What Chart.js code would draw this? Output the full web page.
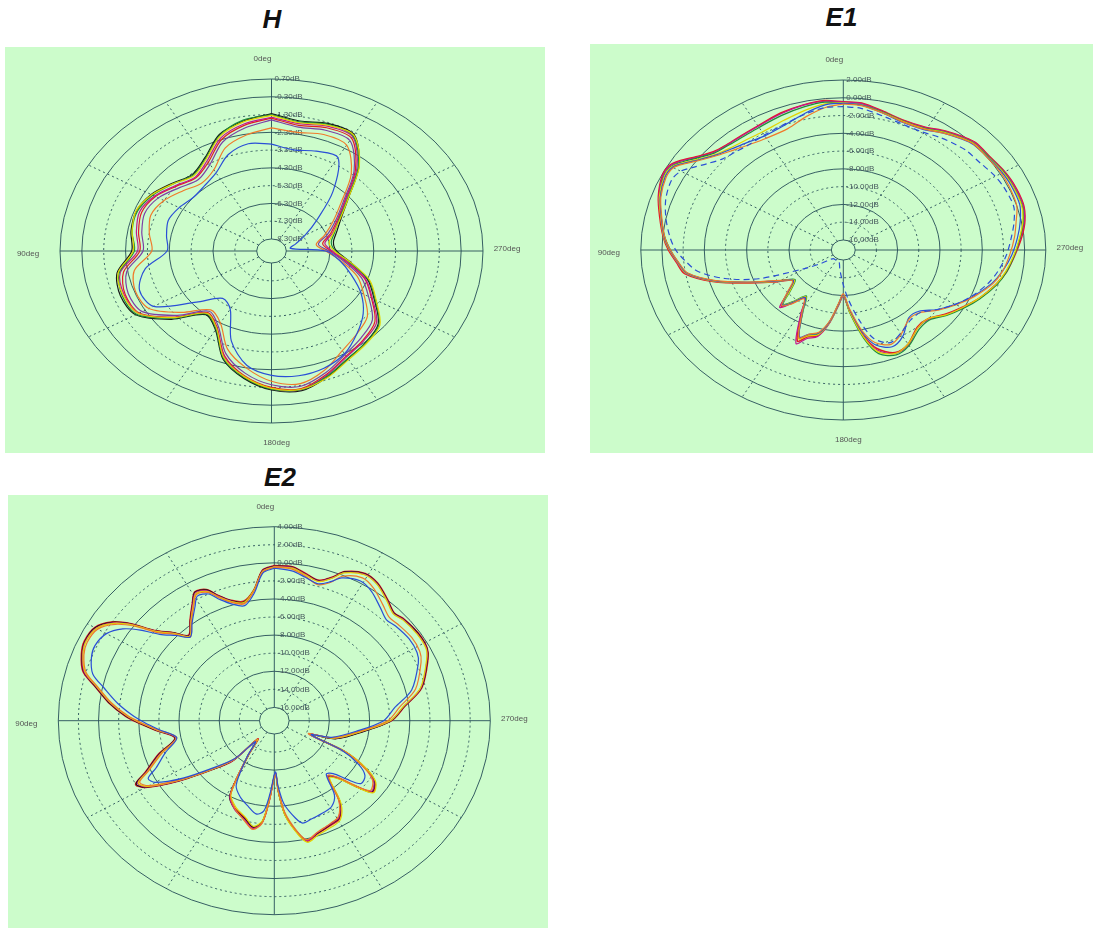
<!DOCTYPE html>
<html>
<head>
<meta charset="utf-8">
<script src="https://cdn.jsdelivr.net/npm/chart.js@4.4.0/dist/chart.umd.min.js"></script>
<style>
  body { margin: 0; background: #fff; width: 1093px; height: 928px; position: relative; overflow: hidden; }
  .titulo { position: absolute; font: italic bold 26px "Liberation Sans", Arial, sans-serif; color: #111; text-align: center; }
  canvas.painel { position: absolute; background: #ccfccb; }
</style>
</head>
<body>
<div class="titulo" style="left:2px; top:4px; width:540px;">H</div>
<div class="titulo" style="left:590px; top:2px; width:503px;">E1</div>
<div class="titulo" style="left:10px; top:462px; width:540px;">E2</div>

<canvas id="graficoH" class="painel" width="540" height="406" style="left:5px; top:47px;"></canvas>
<canvas id="graficoE1" class="painel" width="503" height="409" style="left:590px; top:44px;"></canvas>
<canvas id="graficoE2" class="painel" width="540" height="433" style="left:8px; top:495px;"></canvas>

<script>
// aneis (dB) de cada diagrama, do furo central ate a borda
const H_ANEIS = [-8.3, -7.3, -6.3, -5.3, -4.3, -3.3, -2.3, -1.3, -0.3, 0.7];
const E1_ANEIS = [-16, -14, -12, -10, -8, -6, -4, -2, 0, 2];
const E2_ANEIS = [-16, -14, -12, -10, -8, -6, -4, -2, 0, 2, 4];

// ---- H ----
const H_ANGULOS = [0, 10, 20, 30, 40, 50, 60, 70, 80, 90, 100, 110, 120, 130, 140, 150, 160, 170,
    180, 190, 200, 210, 220, 230, 240, 250, 260, 270, 280, 290, 300, 310, 320, 330, 340, 350];
const hPreto = [-1.24, -1.55, -2.0, -2.9, -3.35, -3.05, -2.62, -2.4, -2.45, -2.58, -1.8, -1.62, -1.8, -3.0, -4.3, -3.85, -2.5, -1.7,
    -1.16, -1.0, -1.45, -1.98, -2.27, -2.6, -3.55, -4.3, -5.3, -6.0, -6.1, -5.8, -5.3, -4.4, -2.75, -1.42, -1.35, -1.55];
const hVerde = [-1.3, -1.5, -2.05, -2.95, -3.4, -3.1, -2.7, -2.45, -2.5, -2.7, -1.9, -1.7, -1.85, -3.1, -4.35, -3.9, -2.55, -1.75,
    -1.2, -1.05, -1.5, -2.0, -2.25, -2.55, -3.5, -4.25, -5.35, -6.05, -6.2, -5.9, -5.4, -4.45, -2.8, -1.5, -1.4, -1.6];
const hAmarelo = [-1.35, -1.6, -2.1, -3.0, -3.45, -3.1, -2.65, -2.38, -2.5, -2.65, -1.85, -1.75, -1.95, -3.15, -4.4, -3.95, -2.6, -1.8,
    -1.25, -1.08, -1.42, -1.92, -2.2, -2.5, -3.45, -4.2, -5.3, -6.1, -6.3, -5.95, -5.35, -4.4, -2.72, -1.45, -1.45, -1.65];
const hVermelho = [-1.5, -1.8, -2.3, -3.2, -3.6, -3.3, -2.85, -2.65, -2.8, -2.95, -2.1, -1.85, -2.0, -3.2, -4.45, -4.0, -2.7, -1.85,
    -1.3, -1.12, -1.6, -2.15, -2.45, -2.8, -3.7, -4.45, -5.5, -6.25, -6.6, -6.1, -5.5, -4.6, -3.0, -1.65, -1.6, -1.8];
const hMagenta = [-1.45, -1.72, -2.2, -3.1, -3.55, -3.25, -2.8, -2.55, -2.7, -2.85, -1.95, -1.8, -1.95, -3.15, -4.4, -3.95, -2.65, -1.8,
    -1.22, -1.05, -1.55, -2.1, -2.4, -2.7, -3.65, -4.4, -5.45, -6.2, -6.5, -6.0, -5.45, -4.55, -2.9, -1.55, -1.5, -1.7];
const hRoxo = [-1.6, -1.95, -2.45, -3.35, -3.75, -3.45, -3.0, -2.8, -2.95, -3.1, -2.25, -2.0, -2.15, -3.35, -4.55, -4.1, -2.85, -2.0,
    -1.45, -1.25, -1.7, -2.25, -2.6, -2.95, -3.85, -4.6, -5.6, -6.35, -6.8, -6.25, -5.6, -4.7, -3.1, -1.8, -1.75, -1.9];
const hLaranja = [-2.05, -2.35, -2.8, -3.7, -4.0, -3.7, -3.3, -3.1, -3.3, -3.5, -2.6, -2.35, -2.5, -3.6, -4.65, -4.3, -3.1, -2.3,
    -1.65, -1.4, -1.85, -2.5, -2.9, -3.25, -4.1, -4.8, -5.75, -6.5, -6.9, -6.4, -5.75, -4.85, -3.3, -2.1, -2.0, -2.2];
const hAzul = [-2.96, -2.85, -3.2, -3.9, -4.2, -4.3, -4.1, -3.95, -4.1, -4.2, -3.1, -2.55, -2.75, -4.5, -5.5, -5.2, -3.6, -2.45,
    -1.98, -1.85, -1.96, -2.3, -2.9, -3.5, -4.25, -5.1, -5.8, -6.5, -8.1, -7.8, -7.2, -6.27, -4.6, -2.9, -3.0, -3.2];

// ---- E1 ----
const E1_ANGULOS = [0, 6, 13, 21, 30, 37, 43, 48, 53, 57, 60, 64, 71, 78, 85, 90, 95, 100, 106, 112,
    120, 126, 132, 137, 141, 146, 151, 157, 161, 166, 171, 176, 180, 185, 191, 196, 203, 210, 219, 226,
    233, 240, 247, 255, 261, 268, 275, 281, 287, 295, 301, 307, 314, 318, 324, 331, 339, 346, 354];
const e1Vermelho = [-0.45, -0.22, -0.37, -0.62, -1.0, -1.05, -0.95, -0.6, 0.3, 1.3, 1.85, 1.9, 1.35, 0.6, -0.05, -0.6, -1.3, -1.9, -4.3, -7.2,
    -10.0, -11.3, -10.2, -8.5, -9.5, -10.7, -9.0, -6.0, -6.8, -7.2, -8.9, -11.0, -12.0, -10.2, -7.4, -5.6, -4.6, -4.9, -6.0, -6.0,
    -5.1, -4.2, -3.2, -2.2, -1.5, -0.9, -0.2, 0.35, 0.65, 0.6, 0.45, 0.25, 0.25, -0.05, -0.6, -1.3, -1.45, -1.1, -0.5];
const e1Magenta = [-0.5, -0.3, -0.4, -0.7, -1.05, -1.1, -1.0, -0.7, 0.2, 1.2, 1.8, 1.85, 1.3, 0.5, -0.1, -0.7, -1.35, -2.0, -4.4, -7.3,
    -10.1, -11.4, -10.3, -8.3, -9.4, -10.6, -8.8, -5.7, -6.6, -7.1, -8.8, -10.9, -11.9, -10.1, -7.3, -5.4, -4.5, -4.8, -5.9, -5.9,
    -5.0, -4.1, -3.15, -2.15, -1.55, -0.95, -0.3, 0.3, 0.6, 0.55, 0.4, 0.2, 0.2, -0.1, -0.65, -1.35, -1.5, -1.15, -0.55];
const e1Verde = [-0.6, -0.4, -0.6, -0.9, -1.2, -1.25, -1.1, -0.8, 0.1, 1.05, 1.65, 1.75, 1.2, 0.45, -0.2, -0.8, -1.45, -2.1, -4.5, -7.4,
    -10.2, -11.5, -10.5, -8.8, -9.7, -10.9, -9.3, -6.4, -7.0, -7.4, -9.0, -11.1, -12.1, -10.0, -7.0, -5.0, -4.3, -4.7, -5.7, -5.8,
    -4.9, -4.0, -3.1, -2.1, -1.5, -0.95, -0.35, 0.2, 0.5, 0.45, 0.35, 0.15, 0.1, -0.2, -0.75, -1.45, -1.55, -1.2, -0.7];
const e1Amarelo = [-0.55, -0.6, -1.0, -1.5, -1.8, -1.7, -1.45, -1.0, -0.1, 0.9, 1.6, 1.7, 1.25, 0.5, -0.1, -0.7, -1.4, -2.05, -4.4, -7.3,
    -10.1, -11.4, -10.4, -8.7, -9.6, -10.8, -9.2, -6.3, -6.9, -7.3, -8.9, -11.0, -12.0, -10.1, -7.2, -5.2, -4.5, -4.9, -5.9, -6.0,
    -5.0, -4.15, -3.2, -2.2, -1.6, -1.0, -0.4, 0.15, 0.45, 0.4, 0.3, 0.1, 0.05, -0.25, -0.8, -1.5, -1.6, -1.25, -0.75];
const e1Laranja = [-0.7, -1.0, -1.7, -2.5, -2.6, -2.3, -1.8, -1.2, -0.3, 0.7, 1.4, 1.5, 1.1, 0.4, -0.2, -0.8, -1.5, -2.2, -4.6, -7.5,
    -10.3, -11.2, -10.0, -8.6, -9.3, -10.5, -9.1, -6.4, -7.1, -7.6, -9.1, -11.2, -12.2, -10.5, -7.9, -6.3, -5.6, -6.2, -7.2, -7.0,
    -5.9, -4.8, -3.7, -2.5, -1.9, -1.4, -0.9, -0.5, 0.0, 0.1, 0.1, 0.0, 0.0, -0.3, -0.9, -1.55, -1.65, -1.3, -0.8];
const e1Azul = [-0.6, -0.7, -1.3, -2.0, -2.3, -2.0, -1.6, -1.1, -0.2, 0.8, 1.5, 1.6, 1.15, 0.45, -0.15, -0.75, -1.45, -2.15, -4.5, -7.4,
    -10.2, -11.3, -10.1, -8.7, -9.5, -10.7, -9.2, -6.5, -7.1, -7.5, -9.0, -11.1, -12.1, -10.4, -7.7, -6.0, -5.3, -5.9, -7.3, -7.2,
    -6.0, -4.9, -3.8, -2.6, -1.9, -1.2, -0.6, -0.1, 0.3, 0.3, 0.2, 0.05, -0.05, -0.35, -0.9, -1.6, -1.7, -1.3, -0.75];
const e1Tracejado = [-1.0, -1.0, -1.4, -1.9, -2.2, -2.3, -2.1, -1.8, -1.0, -0.1, 0.6, 0.9, 0.6, 0.0, -0.7, -1.3, -2.2, -3.2, -5.5, -8.5,
    -13.0, -14.6, -15.6, -15.8, -15.8, -15.8, -15.8, -15.8, -15.8, -15.6, -15.0, -14.2, -13.2, -11.5, -9.0, -6.8, -5.8, -6.3, -7.0, -7.0,
    -6.0, -4.9, -3.9, -2.9, -2.3, -1.7, -1.2, -0.7, -0.3, -0.4, -0.6, -0.9, -1.0, -1.2, -1.5, -1.9, -1.9, -1.6, -1.1];

// ---- E2 ----
const E2_ANGULOS = [0, 4, 8, 13, 18, 22, 25, 29, 32, 37, 42, 46, 50, 53, 56, 60, 65, 69, 74, 78,
    83, 88, 91, 95, 101, 108, 114, 117, 120, 125, 131, 137, 141, 146, 152, 158, 165, 170, 174, 177,
    181, 183, 186, 191, 194, 199, 206, 211, 216, 221, 225, 228, 231, 236, 240, 244, 247, 252, 262, 270,
    277, 284, 294, 298, 304, 311, 315, 320, 326, 331, 337, 340, 344, 349, 354];
const e2Vermelho = [-0.3, -0.74, -2.85, -3.9, -3.45, -2.48, -1.45, -1.15, -2.1, -3.54, -4.74, -3.41, -1.95, 0.35, 2.07, 3.16, 3.37, 3.07, 2.32, 0.75,
    -0.85, -2.64, -3.94, -5.57, -7.4, -5.33, -3.43, -1.99, -2.68, -5.79, -9.18, -11.4, -14.9, -12.9, -8.13, -7.02, -6.29, -5.45, -6.22, -8.88,
    -11.65, -9.61, -6.98, -4.6, -3.73, -4.24, -4.6, -4.85, -6.37, -9.27, -8.46, -6.63, -4.89, -5.41, -7.02, -9.65, -13.7, -11.1, -8.71, -5.81,
    -4.39, -2.35, -0.74, -0.27, -0.18, -0.35, -0.6, 0.05, 0.9, 1.17, 0.46, -0.55, -1.3, -0.9, -0.33];
const e2Preto = [-0.35, -0.8, -2.9, -4.0, -3.5, -2.55, -1.5, -1.2, -2.15, -3.6, -4.8, -3.45, -2.0, 0.3, 2.0, 3.1, 3.3, 3.0, 2.25, 0.7,
    -0.9, -2.7, -4.0, -5.6, -7.45, -5.4, -3.5, -2.05, -2.75, -5.85, -9.2, -11.5, -14.8, -12.8, -8.0, -6.95, -6.2, -5.5, -6.3, -8.9,
    -11.6, -9.5, -6.9, -4.7, -3.85, -4.3, -4.7, -4.95, -6.45, -9.3, -8.5, -6.7, -5.0, -5.5, -7.1, -9.7, -13.6, -11.0, -8.6, -5.85,
    -4.45, -2.4, -0.8, -0.3, -0.22, -0.4, -0.65, 0.0, 0.85, 1.12, 0.42, -0.6, -1.35, -0.95, -0.38];
const e2Magenta = [-0.4, -0.85, -2.95, -4.1, -3.55, -2.6, -1.6, -1.3, -2.2, -3.65, -4.85, -3.5, -2.05, 0.2, 1.9, 3.0, 3.25, 2.95, 2.2, 0.6,
    -1.0, -2.8, -4.1, -5.7, -7.5, -5.5, -3.6, -2.2, -2.85, -5.9, -9.25, -11.5, -14.7, -12.7, -8.1, -6.9, -6.1, -5.35, -6.2, -8.8,
    -11.7, -9.6, -7.0, -4.65, -3.8, -4.35, -4.75, -5.0, -6.5, -9.35, -8.55, -6.75, -5.05, -5.55, -7.1, -9.7, -13.7, -11.2, -8.8, -5.9,
    -4.5, -2.45, -0.85, -0.35, -0.3, -0.45, -0.7, -0.05, 0.8, 1.05, 0.35, -0.65, -1.4, -1.0, -0.42];
const e2Amarelo = [-0.45, -0.9, -2.9, -4.05, -3.6, -2.7, -1.7, -1.4, -2.3, -3.7, -4.9, -3.55, -2.1, 0.1, 1.8, 2.95, 3.2, 2.9, 2.1, 0.55,
    -1.05, -2.85, -4.15, -5.75, -7.55, -5.6, -3.7, -2.3, -2.95, -6.0, -9.3, -11.6, -14.8, -12.8, -8.3, -7.2, -6.4, -5.6, -6.4, -9.0,
    -11.6, -9.5, -6.8, -4.5, -3.6, -4.1, -4.4, -4.7, -6.2, -9.1, -8.3, -6.5, -4.8, -5.3, -6.95, -9.6, -13.6, -11.2, -8.8, -5.95,
    -4.55, -2.5, -0.9, -0.4, -0.35, -0.5, -0.75, -0.1, 0.75, 1.0, 0.3, -0.7, -1.45, -1.05, -0.5];
const e2Laranja = [-0.5, -1.0, -3.0, -4.2, -3.7, -2.8, -1.8, -1.5, -2.4, -3.8, -5.0, -3.7, -2.3, -0.1, 1.6, 2.8, 3.05, 2.8, 2.0, 0.45,
    -1.15, -2.95, -4.25, -5.85, -7.6, -5.7, -3.8, -2.45, -3.1, -6.1, -9.4, -11.7, -14.7, -12.6, -8.2, -7.0, -6.0, -5.25, -6.1, -8.7,
    -11.6, -9.7, -7.2, -4.8, -3.9, -4.4, -4.8, -5.1, -6.6, -9.4, -8.7, -6.9, -5.2, -5.7, -7.3, -9.8, -13.8, -11.4, -9.0, -6.2,
    -4.9, -3.0, -1.5, -1.1, -1.0, -1.2, -1.3, -0.7, 0.2, 0.6, -0.1, -1.2, -1.8, -1.2, -0.6];
const e2Azul = [-0.6, -1.1, -3.2, -4.4, -3.9, -3.0, -2.0, -1.7, -2.6, -3.9, -5.0, -3.9, -2.6, -0.8, 0.7, 1.8, 2.2, 2.0, 1.3, -0.2,
    -1.8, -3.5, -4.6, -6.0, -7.6, -6.1, -4.6, -3.4, -3.8, -6.4, -9.6, -11.8, -14.5, -12.6, -9.4, -8.4, -7.6, -7.0, -7.4, -9.4,
    -11.8, -10.2, -8.2, -6.5, -5.8, -6.0, -6.2, -6.4, -7.3, -9.6, -9.2, -7.8, -6.4, -6.6, -7.8, -10.0, -13.5, -11.5, -9.2, -6.6,
    -5.4, -3.4, -1.8, -1.4, -1.3, -1.5, -1.7, -1.1, -0.2, 0.2, -0.3, -1.1, -1.7, -1.3, -0.8];

const CORES = {
    preto: '#161616', vermelho: '#e41b23', magenta: '#c2188f', verde: '#1e8c3a',
    amarelo: '#e2d400', laranja: '#f07a2a', roxo: '#7b3fa6', azul: '#2a4fd6'
};

// raio normalizado (borda = 1) para um valor em dB
function raioNormal(db, aneis, furo) {
    const min = aneis[0], max = aneis[aneis.length - 1];
    const v = Math.max(min, Math.min(max, db));
    return furo + (v - min) / (max - min) * (1 - furo);
}

// 0deg em cima, 90deg a esquerda, 180deg embaixo, 270deg a direita
function montarPontos(angulos, valores, aneis, furo) {
    const pts = angulos.map((a, i) => {
        const r = raioNormal(valores[i], aneis, furo);
        const t = a * Math.PI / 180;
        return { x: -r * Math.sin(t), y: r * Math.cos(t) };
    });
    pts.push(pts[0]);
    return pts;
}

const gradePolar = {
    id: 'gradePolar',
    beforeDatasetsDraw(chart, args, opts) {
        const ctx = chart.ctx;
        const sx = chart.scales.x, sy = chart.scales.y;
        const cx = sx.getPixelForValue(0), cy = sy.getPixelForValue(0);
        const rx = sx.getPixelForValue(1) - cx, ry = cy - sy.getPixelForValue(1);
        const aneis = opts.aneis, furo = opts.furo;
        const cor = 'rgba(38, 78, 88, 0.9)';

        ctx.save();
        ctx.strokeStyle = cor;
        ctx.lineWidth = 1;

        // raios pontilhados a cada 30 graus
        ctx.setLineDash([2, 3]);
        [30, 60, 120, 150, 210, 240, 300, 330].forEach(a => {
            const t = a * Math.PI / 180;
            ctx.beginPath();
            ctx.moveTo(cx - rx * furo * Math.sin(t), cy - ry * furo * Math.cos(t));
            ctx.lineTo(cx - rx * Math.sin(t), cy - ry * Math.cos(t));
            ctx.stroke();
        });

        // aneis: pares cheios, impares pontilhados, borda sempre cheia
        aneis.forEach((v, i) => {
            const r = raioNormal(v, aneis, furo);
            const cheio = i % 2 === 0 || i === aneis.length - 1;
            ctx.setLineDash(cheio ? [] : [2, 3]);
            ctx.beginPath();
            ctx.ellipse(cx, cy, rx * r, ry * r, 0, 0, Math.PI * 2);
            ctx.stroke();
        });

        // eixos principais
        ctx.setLineDash([]);
        ctx.beginPath();
        ctx.moveTo(cx - rx, cy); ctx.lineTo(cx - rx * furo, cy);
        ctx.moveTo(cx + rx * furo, cy); ctx.lineTo(cx + rx, cy);
        ctx.moveTo(cx, cy - ry); ctx.lineTo(cx, cy - ry * furo);
        ctx.moveTo(cx, cy + ry * furo); ctx.lineTo(cx, cy + ry);
        ctx.stroke();

        // rotulos dos aneis
        ctx.fillStyle = '#46585c';
        ctx.font = '8px "Liberation Sans", Arial, sans-serif';
        ctx.textAlign = 'left';
        ctx.textBaseline = 'middle';
        aneis.forEach(v => {
            const r = raioNormal(v, aneis, furo);
            ctx.fillText(v.toFixed(2) + 'dB', cx + 3, cy - ry * r);
        });

        // rotulos de angulo
        ctx.fillStyle = '#555';
        ctx.textAlign = 'center';
        ctx.fillText('0deg', cx - 9, cy - ry - 20);
        ctx.fillText('180deg', cx + 5, cy + ry + 20);
        ctx.fillText('90deg', cx - rx - 32, cy + 3);
        ctx.fillText('270deg', cx + rx + 24, cy - 2);
        ctx.restore();
    }
};

function criarDiagrama(id, painel, aneis, furo, angulos, series) {
    const canvas = document.getElementById(id);
    const W = canvas.width, H = canvas.height;
    const datasets = series.map(s => ({
        data: montarPontos(angulos, s.valores, aneis, furo),
        borderColor: s.cor,
        borderWidth: s.largura || 1.2,
        borderDash: s.tracejado ? [6, 4] : [],
        showLine: true,
        pointRadius: 0,
        tension: 0.3,
        fill: false
    }));

    new Chart(canvas, {
        type: 'scatter',
        data: { datasets: datasets },
        options: {
            responsive: false,
            animation: false,
            layout: { padding: 0 },
            plugins: {
                legend: { display: false },
                tooltip: { enabled: false },
                gradePolar: { aneis: aneis, furo: furo }
            },
            scales: {
                x: { type: 'linear', display: false, min: -painel.cx / painel.rx, max: (W - painel.cx) / painel.rx },
                y: { type: 'linear', display: false, min: -(H - painel.cy) / painel.ry, max: painel.cy / painel.ry }
            }
        },
        plugins: [gradePolar]
    });
}

criarDiagrama('graficoH', { cx: 266.5, cy: 204, rx: 211.5, ry: 172 }, H_ANEIS, 0.07, H_ANGULOS, [
    { valores: hAzul, cor: CORES.azul },
    { valores: hLaranja, cor: CORES.laranja },
    { valores: hRoxo, cor: CORES.roxo },
    { valores: hAmarelo, cor: CORES.amarelo },
    { valores: hVerde, cor: CORES.verde },
    { valores: hMagenta, cor: CORES.magenta },
    { valores: hVermelho, cor: CORES.vermelho },
    { valores: hPreto, cor: CORES.preto }
]);

criarDiagrama('graficoE1', { cx: 253.3, cy: 206, rx: 202.5, ry: 170 }, E1_ANEIS, 0.059, E1_ANGULOS, [
    { valores: e1Tracejado, cor: CORES.azul, tracejado: true },
    { valores: e1Laranja, cor: CORES.laranja },
    { valores: e1Azul, cor: CORES.azul },
    { valores: e1Amarelo, cor: CORES.amarelo },
    { valores: e1Verde, cor: CORES.verde },
    { valores: e1Magenta, cor: CORES.magenta },
    { valores: e1Vermelho, cor: CORES.vermelho, largura: 1.5 }
]);

criarDiagrama('graficoE2', { cx: 266.3, cy: 225.7, rx: 216, ry: 194 }, E2_ANEIS, 0.0686, E2_ANGULOS, [
    { valores: e2Azul, cor: CORES.azul },
    { valores: e2Laranja, cor: CORES.laranja },
    { valores: e2Amarelo, cor: CORES.amarelo },
    { valores: e2Magenta, cor: CORES.magenta },
    { valores: e2Preto, cor: CORES.preto },
    { valores: e2Vermelho, cor: CORES.vermelho, largura: 1.5 }
]);
</script>
</body>
</html>
